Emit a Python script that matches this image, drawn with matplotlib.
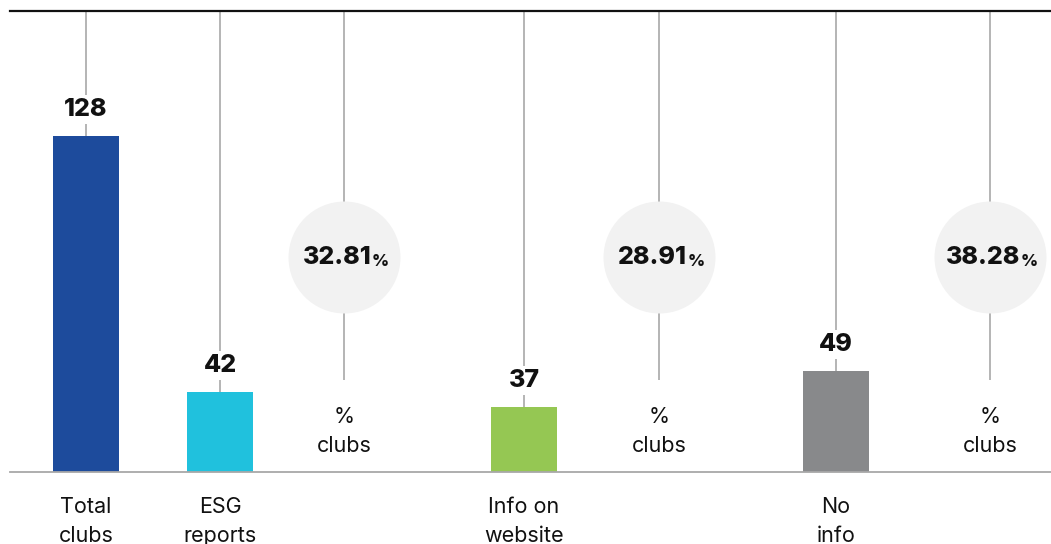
import matplotlib
matplotlib.use('Agg')
import matplotlib.pyplot as plt


## data
categories = ['Total\nclubs', 'ESG\nreports', 'Info on\nwebsite', 'No\ninfo']
counts = [128, 42, 37, 49]
bar_colors = ['#1d4b9c', '#20c1dd', '#95c753', '#88898b']
shares = [32.81, 28.91, 38.28]
share_label = '%\nclubs'

## layout (x positions in pixel-like units of the figure width)
bar_x = [86, 220, 524, 836]
share_x = [344, 659, 990]
W, H = 1051, 544

plt.rcParams['font.family'] = ['Inter', 'DejaVu Sans']

fig = plt.figure(figsize=(W / 100, H / 100), dpi=100)
ax = fig.add_axes([10 / W, 1 - 472 / H, 1041 / W, 461 / H])
ax.set_xlim(10, 1051)
ax.set_ylim(15.2, 170)

line_col = '#a0a0a0'

# bars + connector lines
ax.vlines(bar_x, counts, 170, color=line_col, lw=1.1, zorder=1)
ax.bar(bar_x, counts, width=66, color=bar_colors, zorder=2, bottom=0)
for x, v in zip(bar_x, counts) :
    ax.annotate(str(v), (x, v), xytext=(0, 11), textcoords='offset points',
                ha='center', va='bottom', fontsize=18, fontweight='heavy',
                color='#111111', zorder=3,
                bbox=dict(boxstyle='square,pad=0.12', fc='white', ec='none'))

# share circles
tr = ax.get_xaxis_transform()
ax.vlines(share_x, 0.2, 1, color=line_col, lw=1.1, transform=tr, zorder=1)
ax.scatter(share_x, [0.466] * len(share_x), s=6500, color='#f2f2f2',
           transform=tr, zorder=2, linewidths=0)
for x, p in zip(share_x, shares) :
    t = ax.text(x - 7, 0.466, f'{p:.2f}', transform=tr, ha='center', va='center',
                fontsize=18, fontweight='heavy', color='#111111', zorder=3)
    ax.annotate('%', xy=(1, 0), xycoords=t, xytext=(0.5, 0), textcoords='offset points',
                ha='left', va='bottom', fontsize=12, fontweight='heavy',
                color='#111111', zorder=3)
    ax.text(x, 0.087, share_label, transform=tr, ha='center', va='center',
            fontsize=15.5, color='#111111', linespacing=1.55)

# axes styling
for s in ['left', 'right'] :
    ax.spines[s].set_visible(False)
ax.spines['top'].set_color('#111111')
ax.spines['top'].set_linewidth(1.6)
ax.spines['bottom'].set_color('#a8a8a8')
ax.spines['bottom'].set_linewidth(1.3)
ax.set_yticks([])
ax.set_xticks(bar_x)
ax.set_xticklabels(categories, fontsize=15.5, color='#111111', linespacing=1.55)
ax.tick_params(axis='x', length=0, pad=18)

fig.savefig('out.png', dpi=100)
